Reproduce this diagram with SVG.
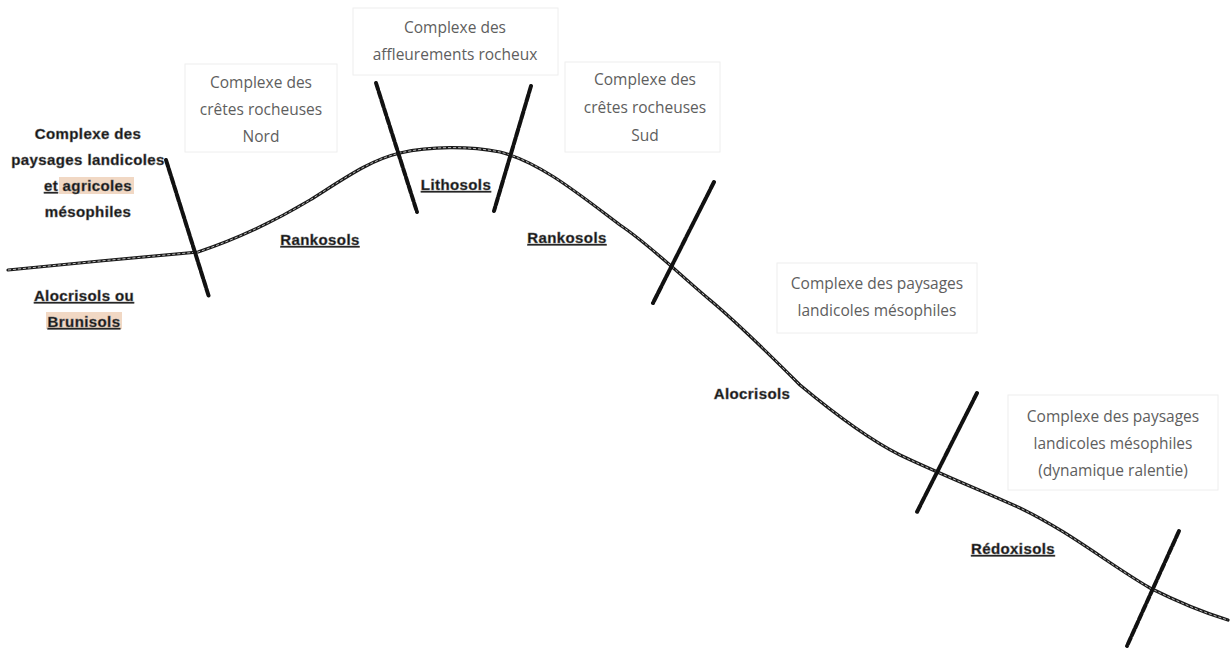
<svg xmlns="http://www.w3.org/2000/svg" width="1231" height="650" viewBox="0 0 1231 650">
<style>
.box{fill:#ffffff;stroke:#eeeeee;stroke-width:1}
.gt{font-family:"Open Sans","Noto Sans",sans-serif;font-size:15.5px;fill:#5e5e5e;text-anchor:middle}
.bt{font-family:"Liberation Sans","DejaVu Sans",sans-serif;font-size:15px;font-weight:bold;fill:#111;text-anchor:middle;stroke:#666;stroke-width:0.5;letter-spacing:0.4px}
.u{text-decoration:underline}
.hl{fill:#f1d8c4}
.tick{fill:none;stroke:#111;stroke-width:4;stroke-dasharray:7 2;stroke-linecap:round}
.prof{fill:none;stroke:#1a1a1a;stroke-width:3.2;stroke-linecap:round}
.profin{fill:none;stroke:#cfcfcf;stroke-width:0.9;stroke-dasharray:3 2}
</style>
<rect width="1231" height="650" fill="#ffffff"/>
<g id="connectors">
<path class="prof" d="M8,270 L100,261 L198,252 C240,238 280,218 310,200 C345,178 370,160 400,153 C430,146 470,146 500,152 C540,162 580,195 620,225 C650,245 680,275 710,300 C740,325 770,355 800,385 C830,410 870,440 900,455 C940,474 980,490 1020,508 C1070,532 1110,565 1150,588 C1180,603 1205,613 1228,620"/>
<path class="profin" d="M8,270 L100,261 L198,252 C240,238 280,218 310,200 C345,178 370,160 400,153 C430,146 470,146 500,152 C540,162 580,195 620,225 C650,245 680,275 710,300 C740,325 770,355 800,385 C830,410 870,440 900,455 C940,474 980,490 1020,508 C1070,532 1110,565 1150,588 C1180,603 1205,613 1228,620"/>
<line class="tick" x1="166" y1="160" x2="209" y2="297"/>
<line class="tick" x1="376" y1="83" x2="417" y2="212"/>
<line class="tick" x1="531" y1="86" x2="494" y2="211"/>
<line class="tick" x1="714" y1="182" x2="653" y2="303"/>
<line class="tick" x1="977" y1="393" x2="917" y2="512"/>
<line class="tick" x1="1179" y1="531" x2="1127" y2="646"/>
</g>
<g id="n-cretes-nord">
<rect class="box" x="185" y="64" width="152" height="88"/>
<text class="gt" x="261" y="88">Complexe des</text>
<text class="gt" x="261" y="115">crêtes rocheuses</text>
<text class="gt" x="261" y="142">Nord</text>
</g>
<g id="n-affleurements">
<rect class="box" x="353" y="8" width="205" height="67"/>
<text class="gt" x="455" y="33">Complexe des</text>
<text class="gt" x="455" y="60">affleurements rocheux</text>
</g>
<g id="n-cretes-sud">
<rect class="box" x="565" y="62" width="155" height="90"/>
<text class="gt" x="645" y="85">Complexe des</text>
<text class="gt" x="645" y="113">crêtes rocheuses</text>
<text class="gt" x="645" y="141">Sud</text>
</g>
<g id="n-landicoles">
<rect class="box" x="777" y="263" width="200" height="70"/>
<text class="gt" x="877" y="289">Complexe des paysages</text>
<text class="gt" x="877" y="316">landicoles mésophiles</text>
</g>
<g id="n-landicoles-ralentie">
<rect class="box" x="1008" y="395" width="210" height="95"/>
<text class="gt" x="1113" y="422">Complexe des paysages</text>
<text class="gt" x="1113" y="449">landicoles mésophiles</text>
<text class="gt" x="1113" y="476">(dynamique ralentie)</text>
</g>
<g id="n-agricoles">
<rect class="hl" x="59" y="177" width="75" height="17"/>
<text class="bt" x="88" y="139">Complexe des</text>
<text class="bt" x="88" y="165">paysages landicoles</text>
<text class="bt" x="88" y="191"><tspan class="u">et</tspan> agricoles</text>
<text class="bt" x="88" y="217">mésophiles</text>
</g>
<g id="n-sol-alo-bru">
<rect class="hl" x="46" y="312" width="76" height="17"/>
<text class="bt u" x="84" y="301">Alocrisols ou</text>
<text class="bt u" x="84" y="327">Brunisols</text>
</g>
<g id="n-sol-rank-n">
<text class="bt u" x="320" y="245">Rankosols</text>
</g>
<g id="n-sol-litho">
<text class="bt u" x="456" y="190">Lithosols</text>
</g>
<g id="n-sol-rank-s">
<text class="bt u" x="567" y="243">Rankosols</text>
</g>
<g id="n-sol-alo">
<text class="bt" x="752" y="399">Alocrisols</text>
</g>
<g id="n-sol-redox">
<text class="bt u" x="1013" y="554">Rédoxisols</text>
</g>
</svg>
